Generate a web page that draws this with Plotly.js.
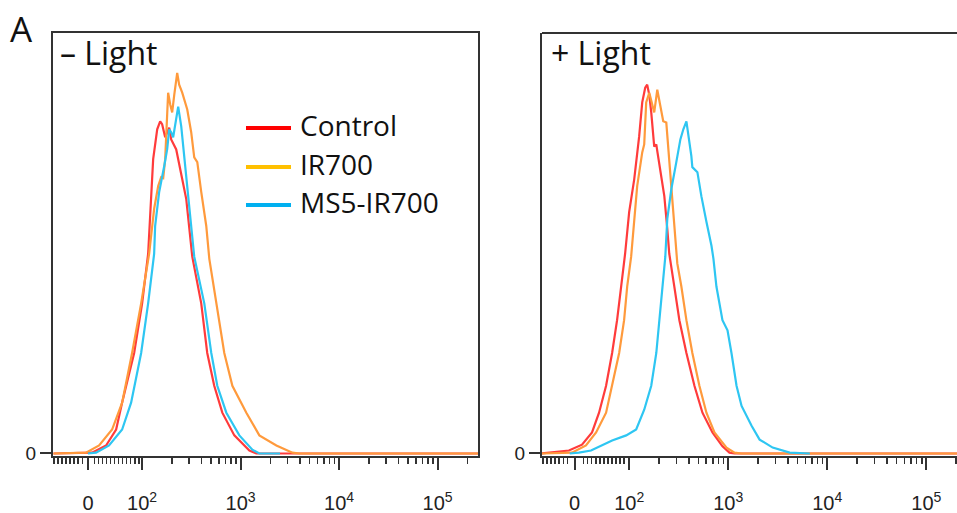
<!DOCTYPE html>
<html>
<head>
<meta charset="utf-8">
<script src="https://cdn.plot.ly/plotly-3.0.1.min.js"></script>
<style>html,body{margin:0;padding:0;overflow:hidden;background:#fff}</style>
</head>
<body>
<div id="chart" style="width:957px;height:513px"></div>
<script>
// x values are display positions on the biexponential axis (decades: 2 = 10^2, 3 = 10^3 ...)
// y values are % of the panel height (event counts, normalized to mode)
const seriesNames = ["Control", "IR700", "MS5-IR700"];
const panelTitles = ["\u2013 Light", "+ Light"];
const tickVals = [1.45, 2, 3, 4, 5];
const tickText = ["0", "10<sup>2</sup>", "10<sup>3</sup>", "10<sup>4</sup>", "10<sup>5</sup>"];

// ---- Panel 1: - Light ----
const darkControlX = [1.10,1.491,1.634,1.736,1.797,1.919,2.000,2.061,2.112,2.153,2.183,2.203,2.234,2.275,2.295,2.346,2.397,2.448,2.509,2.600,2.661,2.732,2.814,2.936,3.089,3.160,5.41];
const darkControlY = [0,0.2,1.9,5.7,12.1,23.9,35.7,47.5,70.0,77.1,79.0,78.3,75.2,77.5,74.7,72.3,66.4,60.5,46.8,35.7,23.9,16.1,9.7,4.3,0.7,0,0];
const darkIR700X = [1.10,1.430,1.563,1.695,1.797,1.898,1.990,2.071,2.122,2.163,2.193,2.214,2.234,2.254,2.264,2.285,2.305,2.326,2.356,2.376,2.407,2.458,2.498,2.529,2.560,2.600,2.651,2.682,2.753,2.834,2.916,3.058,3.190,3.363,3.526,3.597,5.41];
const darkIR700Y = [0,0.2,1.9,5.7,12.1,23.9,35.7,47.5,58.2,63.6,65.7,65.5,70.0,79.4,85.8,83.0,81.1,85.3,90.5,87.7,85.8,81.8,76.4,70.4,69.3,62.2,54.1,46.3,35.7,23.9,16.1,9.7,4.3,1.9,0.2,0,0];
const darkMS5X = [1.45,1.532,1.664,1.797,1.888,1.990,2.061,2.122,2.132,2.173,2.224,2.254,2.275,2.295,2.315,2.336,2.366,2.397,2.448,2.498,2.529,2.631,2.702,2.763,2.855,2.987,3.119,3.190,3.40];
const darkMS5Y = [0,0.2,1.9,5.7,12.1,23.9,35.7,47.5,54.1,62.2,68.3,72.3,77.1,76.4,75.2,78.3,82.5,77.8,66.0,54.1,46.8,35.7,23.9,16.1,9.7,4.3,0.9,0,0];

// ---- Panel 2: + Light ----
const lightControlX = [1.12,1.392,1.524,1.625,1.696,1.767,1.828,1.878,1.919,1.959,2.000,2.051,2.101,2.132,2.162,2.182,2.203,2.223,2.253,2.274,2.284,2.324,2.355,2.385,2.405,2.456,2.507,2.578,2.659,2.740,2.841,2.942,3.013,3.064,5.31];
const lightControlY = [0,0.7,2.1,5.0,9.7,16.1,23.9,31.7,39.7,47.5,57.4,65.2,75.4,83.5,87.0,87.7,85.3,81.1,73.0,73.5,71.9,65.2,61.2,53.4,47.5,39.7,31.7,23.9,16.1,9.7,5.0,1.7,0.2,0,0];
const lightIR700X = [1.12,1.422,1.564,1.666,1.767,1.828,1.899,1.949,1.980,2.020,2.051,2.081,2.132,2.152,2.172,2.203,2.233,2.253,2.284,2.324,2.344,2.375,2.405,2.436,2.466,2.486,2.527,2.578,2.638,2.709,2.780,2.861,2.983,3.064,3.135,5.31];
const lightIR700Y = [0,0.2,1.9,5.0,9.7,16.1,23.9,31.7,39.7,46.8,55.8,63.6,71.6,73.5,83.5,85.8,83.0,81.1,86.5,81.1,79.0,78.7,69.3,59.8,49.9,45.2,39.7,31.7,23.9,16.1,9.7,5.0,1.4,0.2,0,0];
const lightMS5X = [1.40,1.493,1.615,1.726,1.828,1.970,2.071,2.152,2.223,2.274,2.304,2.334,2.365,2.385,2.426,2.476,2.517,2.547,2.578,2.628,2.638,2.689,2.729,2.780,2.831,2.851,2.881,2.942,2.993,3.033,3.084,3.135,3.236,3.317,3.449,3.621,3.824];
const lightMS5Y = [0,0.2,0.7,1.9,3.1,4.3,5.7,10.4,16.1,23.9,31.7,39.7,46.8,55.8,62.9,69.3,74.7,77.1,79.0,70.7,68.1,66.9,61.2,55.1,49.4,46.3,39.7,31.7,29.3,23.9,16.1,11.3,6.6,3.3,1.4,0.2,0];

const lineColors = ["#ff3b3b", "#ff9a3c", "#2ec6f2"];
const legendColors = ["#ff0000", "#ffc000", "#00b0f0"];

const W = 957, H = 513;
const px = v => v / W;
const py = v => 1 - v / H;

function tr(x, y, i, xa, ya) {
  return {x: x, y: y, xaxis: xa, yaxis: ya, type: "scatter", mode: "lines",
    name: seriesNames[i], showlegend: false, hoverinfo: "skip",
    line: {color: lineColors[i], width: 2.2}};
}
const data = [
  tr(darkControlX, darkControlY, 0, "x", "y"),
  tr(darkIR700X, darkIR700Y, 1, "x", "y"),
  tr(darkMS5X, darkMS5Y, 2, "x", "y"),
  tr(lightControlX, lightControlY, 0, "x2", "y2"),
  tr(lightIR700X, lightIR700Y, 1, "x2", "y2"),
  tr(lightMS5X, lightMS5Y, 2, "x2", "y2")
];

// minor ticks: linear region below 10^2, log spacing above
function minorTicks(lo) {
  const m = [];
  for (let u = lo; u < 1.98; u += 0.041) { if (Math.abs(u - 1.45) > 0.05) m.push(u); }
  for (let d = 2; d <= 5; d++) for (let k = 2; k <= 9; k++) m.push(d + Math.log10(k));
  return m;
}

function xAxis(domain, range, anchor) {
  return {domain: domain, range: range, anchor: anchor, type: "linear",
    showgrid: false, zeroline: false, showline: true, linecolor: "#333", linewidth: 2,
    mirror: true, layer: "below traces",
    tickmode: "array", tickvals: tickVals, ticktext: tickText,
    ticks: "outside", ticklen: 12, tickwidth: 2, tickcolor: "#333",
    ticklabelstandoff: 16,
    tickfont: {family: "Liberation Sans, Arial, sans-serif", size: 20, color: "#222"},
    minor: {tickvals: minorTicks(range[0] + 0.01), ticks: "outside", ticklen: 6, tickwidth: 1.5, tickcolor: "#333"},
    fixedrange: true};
}
function yAxis(domain, anchor, mirror) {
  return {domain: domain, range: [-0.6, 100], anchor: anchor,
    showgrid: false, zeroline: false, showline: true, linecolor: "#333", linewidth: 2,
    mirror: mirror, layer: "below traces",
    tickmode: "array", tickvals: [0], ticktext: ["0"],
    ticks: "outside", ticklen: 11, tickwidth: 2, tickcolor: "#333",
    tickfont: {family: "Liberation Sans, Arial, sans-serif", size: 19, color: "#222"},
    fixedrange: true};
}

const yDom = [py(456), py(33)];
const legendY = [128, 167, 205];
const shapes = legendY.map((v, i) => ({type: "line", xref: "paper", yref: "paper",
  x0: px(246), x1: px(291), y0: py(v), y1: py(v), line: {color: legendColors[i], width: 4}}));
const annFont = {family: "Open Sans, Noto Sans, sans-serif", color: "#111"};
const annotations = [
  {text: "A", xref: "paper", yref: "paper", x: px(8), y: py(28), xanchor: "left", yanchor: "middle", showarrow: false,
   font: Object.assign({}, annFont, {size: 35})},
  {text: panelTitles[0], xref: "paper", yref: "paper", x: px(58), y: py(52), xanchor: "left", yanchor: "middle", showarrow: false,
   font: Object.assign({}, annFont, {size: 32})},
  {text: panelTitles[1], xref: "paper", yref: "paper", x: px(549), y: py(52), xanchor: "left", yanchor: "middle", showarrow: false,
   font: Object.assign({}, annFont, {size: 32})}
].concat(legendY.map((v, i) => ({text: seriesNames[i], xref: "paper", yref: "paper", x: px(298), y: py(v - 3),
   xanchor: "left", yanchor: "middle", showarrow: false, font: Object.assign({}, annFont, {size: 28})})));

const layout = {
  width: W, height: H, margin: {l: 0, r: 0, t: 0, b: 0},
  paper_bgcolor: "#fff", plot_bgcolor: "#fff", showlegend: false,
  xaxis: xAxis([px(53), px(478)], [1.095, 5.41], "y"),
  yaxis: yAxis(yDom, "x", true),
  xaxis2: xAxis([px(542), 1], [1.12, 5.31], "y2"),
  yaxis2: yAxis(yDom, "x2", false),
  shapes: shapes, annotations: annotations
};
layout.xaxis2.mirror = false;
layout.shapes.push({type: "line", xref: "paper", yref: "paper", x0: px(542), x1: 1, y0: py(33), y1: py(33), line: {color: "#333", width: 2}});

Plotly.newPlot("chart", data, layout, {displayModeBar: false, staticPlot: true});
</script>
</body>
</html>
